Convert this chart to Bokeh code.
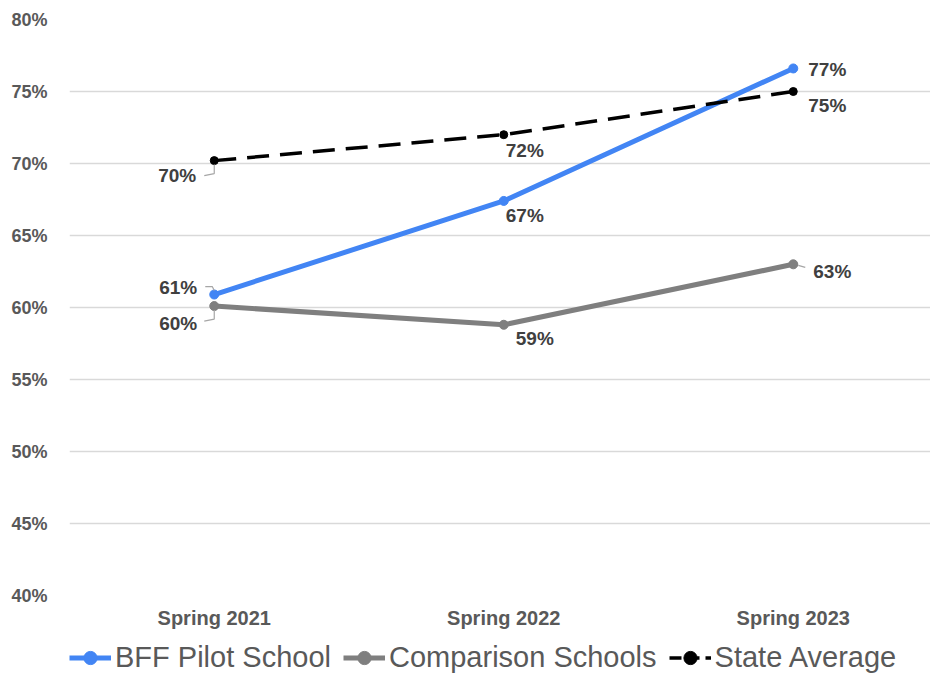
from bokeh.plotting import figure
from bokeh.models import Legend, LegendItem, FixedTicker
from bokeh.layouts import column
from bokeh.core.properties import value
from bokeh.embed import file_html
from bokeh.resources import INLINE

categories = ["Spring 2021", "Spring 2022", "Spring 2023"]
bff = [60.9, 67.4, 76.6]
comparison = [60.1, 58.8, 63.0]
state = [70.2, 72.0, 75.0]
bff_labels = ["61%", "67%", "77%"]
comparison_labels = ["60%", "59%", "63%"]
state_labels = ["70%", "72%", "75%"]
series_names = ["BFF Pilot School", "Comparison Schools", "State Average"]
y_ticks = [40, 45, 50, 55, 60, 65, 70, 75, 80]

xs = list(range(len(categories)))

W = 930
H_MAIN, H_LEG = 641, 33
FONT = "Liberation Sans"
X0, X1 = -0.5, 2.474
p = figure(width=W, height=H_MAIN, output_backend="svg", toolbar_location=None,
           x_range=(X0, X1), y_range=(40, 80),
           min_border_left=69, min_border_right=0, min_border_top=19, min_border_bottom=46)
p.outline_line_color = None
p.background_fill_color = "white"
p.border_fill_color = "white"

# axes
p.xgrid.visible = False
p.ygrid.grid_line_color = "#d9d9d9"
p.ygrid.grid_line_width = 1.5
p.yaxis.ticker = FixedTicker(ticks=y_ticks)
p.yaxis.major_label_overrides = {t: f"{t}%" for t in y_ticks}
p.xaxis.ticker = FixedTicker(ticks=xs)
p.xaxis.major_label_overrides = {i: c for i, c in zip(xs, categories)}
for ax in (p.xaxis, p.yaxis):
    ax.axis_line_color = None
    ax.major_tick_line_color = None
    ax.minor_tick_line_color = None
    ax.major_label_text_font = FONT
    ax.major_label_text_font_style = "bold"
    ax.major_label_text_color = "#595959"
p.yaxis.major_label_text_font_size = "18px"
p.yaxis.major_label_standoff = 16
p.xaxis.major_label_text_font_size = "20px"
p.xaxis.major_label_standoff = 5

BLUE, GRAY, BLACK = "#4285f4", "#7f7f7f", "#000000"
styles = [
    dict(color=BLUE, width=5, dash="solid", size=9),
    dict(color=GRAY, width=5, dash="solid", size=9),
    dict(color=BLACK, width=3.5, dash="22 11", size=8),
]
series = [bff, comparison, state]

for vals, st in zip(series, styles):
    p.line(xs, vals, line_color=st["color"], line_width=st["width"], line_dash=st["dash"])
    p.scatter(xs, vals, size=st["size"], fill_color=st["color"], line_color=st["color"])

# pixel -> data conversion for label offsets (frame: 861 x 576 px)
px_x = (X1 - X0) / 861.0
px_y = 40.0 / 576.0

LABEL_COLOR = "#404040"
def labels(xv, yv, txt, dx, dy, align):
    p.text(x=xv, y=yv, text=txt, x_offset=dx, y_offset=dy,
           text_align=align, text_baseline="middle",
           text_font=value(FONT), text_font_style="bold",
           text_font_size="19px", text_color=LABEL_COLOR)

# right-aligned labels at first category
labels([xs[0]], [state[0]], [state_labels[0]], [-18], [15], "right")
labels([xs[0]], [bff[0]], [bff_labels[0]], [-17], [-7], "right")
labels([xs[0]], [comparison[0]], [comparison_labels[0]], [-17], [17], "right")
# left-aligned labels
labels([xs[1]], [state[1]], [state_labels[1]], [2], [16], "left")
labels([xs[1]], [bff[1]], [bff_labels[1]], [2], [15], "left")
labels([xs[1]], [comparison[1]], [comparison_labels[1]], [12], [14], "left")
labels([xs[2]], [bff[2]], [bff_labels[2]], [15], [1], "left")
labels([xs[2]], [state[2]], [state_labels[2]], [15], [14], "left")
labels([xs[2]], [comparison[2]], [comparison_labels[2]], [20], [7], "left")

# leader lines (offsets in pixels, converted to data units)
def leader(x0, y0, pts):
    p.line([x0 + dx * px_x for dx, dy in pts], [y0 - dy * px_y for dx, dy in pts],
           line_color="#a6a6a6", line_width=1.2)

leader(xs[0], state[0], [(0, 4), (0, 13), (-10, 15)])
leader(xs[0], bff[0], [(-9, -8), (-2, -8), (0, -4)])
leader(xs[0], comparison[0], [(0, 4), (0, 13), (-10, 15)])
leader(xs[2], comparison[2], [(5, 1), (12, 3)])

# legend strip: a second figure whose data lies outside its view, carrying only the legend
q = figure(width=W, height=H_LEG, output_backend="svg", toolbar_location=None,
           x_range=(100, 101), y_range=(0, 1), x_axis_location=None, y_axis_location=None,
           min_border=0)
q.outline_line_color = None
q.xgrid.visible = False
q.ygrid.visible = False
items = []
for name, vals, st in zip(series_names, series, styles):
    rl = q.line(xs, vals, line_color=st["color"], line_width=st["width"],
                line_dash="12 6" if st["dash"] != "solid" else "solid")
    rs = q.scatter(xs, vals, size=6, fill_color=st["color"], line_color=st["color"])
    items.append(LegendItem(label=name, renderers=[rl, rs]))

legend = Legend(items=items, orientation="horizontal", location=(0, 0))
legend.label_text_font = FONT
legend.label_text_font_size = "29px"
legend.label_text_color = "#595959"
legend.label_height = 33
legend.glyph_height = 33
legend.glyph_width = 42
legend.label_standoff = 4
legend.spacing = 12
legend.padding = 0
legend.margin = 0
legend.border_line_color = None
legend.background_fill_alpha = 0
q.add_layout(legend, "center")

layout = column(p, q, spacing=0)
open("out.html", "w").write(file_html(layout, INLINE))
